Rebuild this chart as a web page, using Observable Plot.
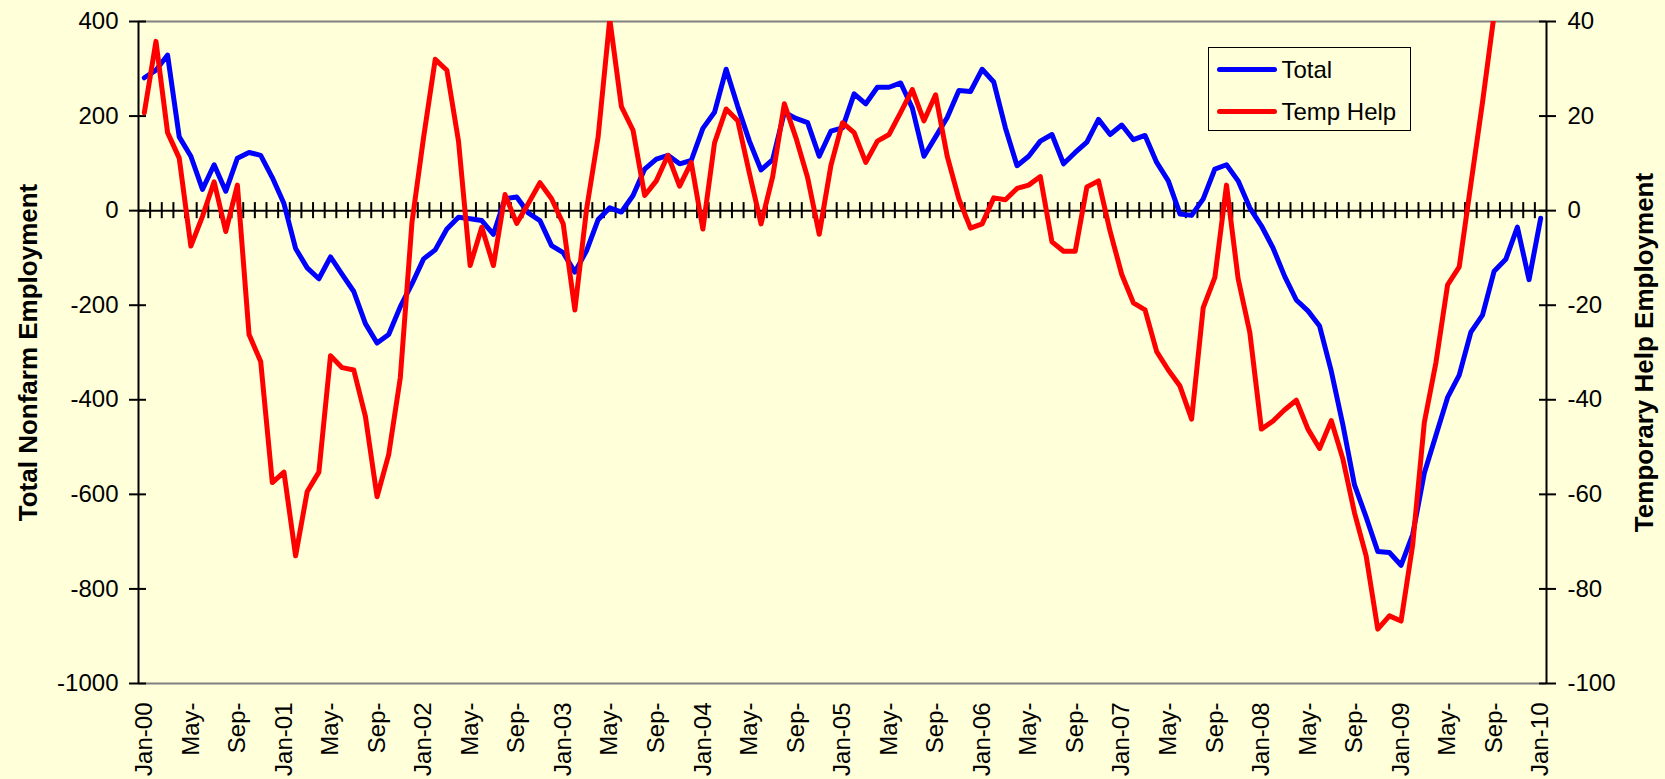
<!DOCTYPE html>
<html><head><meta charset="utf-8">
<script src="https://cdn.jsdelivr.net/npm/d3@7"></script>
<script src="https://cdn.jsdelivr.net/npm/@observablehq/plot@0.6"></script>
<style>
html,body{margin:0;padding:0;background:#FFFFD9;}
#wrap{position:relative;width:1665px;height:779px;overflow:hidden;font-family:"Liberation Sans",Arial,sans-serif;}
#wrap svg{position:absolute;left:0;top:0;}
#legend{position:absolute;left:1208px;top:47px;width:201px;height:82px;border:1.5px solid #000;background:#FFFFD9;}
.row{position:absolute;left:7.5px;height:30px;display:flex;align-items:center;font-size:24px;color:#000;white-space:nowrap;}
.sw{display:inline-block;width:60px;height:5px;border-radius:3px;margin-right:5px;}
</style></head>
<body>
<div id="wrap">
  <div id="legend">
    <div class="row" style="top:6.5px"><span class="sw" style="background:#0000FF"></span>Total</div>
    <div class="row" style="top:48.5px"><span class="sw" style="background:#FF0000"></span>Temp Help</div>
  </div>
</div>
<script>
// Monthly change, Jan-2000 .. Jan-2010 (thousands)
const total = [
  281, 297, 329, 156, 115, 45, 97, 41, 111, 123, 117, 70,
  15, -80, -121, -144, -98, -135, -171, -239, -280, -262, -203, -155,
  -102, -83, -39, -14, -17, -21, -50, 25, 29, -5, -21, -74,
  -89, -130, -85, -19, 6, -3, 32, 88, 109, 117, 99, 106,
  174, 208, 299, 220, 147, 86, 108, 208, 195, 186, 115, 168,
  175, 247, 226, 261, 261, 270, 217, 115, 156, 197, 254, 252,
  299, 272, 175, 95, 115, 147, 161, 99, 123, 145, 193, 161,
  181, 150, 159, 102, 63, -7, -10, 25, 88, 97, 63, 6,
  -32, -79, -139, -189, -212, -244, -339, -453, -580, -648, -721, -723,
  -750, -685, -555, -475, -395, -348, -257, -221, -128, -103, -35, -146,
  -16
];
const tempHelp = [
  20.7, 35.8, 16.5, 11.1, -7.5, -1.2, 6.1, -4.4, 5.4, -26.2, -31.9, -57.5,
  -55.3, -73, -59.4, -55.3, -30.7, -33.2, -33.7, -43.5, -60.5, -51.6, -35.3, -2.5,
  15.5, 32, 29.7, 14.7, -11.6, -3.5, -11.6, 3.4, -2.7, 1.5, 5.9, 2.5,
  -2.8, -21, 0.2, 15.6, 40.5, 22, 17, 3.2, 6.3, 11.7, 5.2, 10.2,
  -3.9, 14.3, 21.5, 19, 7.9, -2.8, 7.2, 22.6, 15.4, 7, -5, 9.5,
  18.6, 16.5, 10.2, 14.7, 16.1, 20.8, 25.6, 19, 24.5, 11.5, 2.5, -3.7,
  -2.8, 2.7, 2.3, 4.7, 5.4, 7.2, -6.6, -8.6, -8.6, 5.0, 6.3, -4.4,
  -13.5, -19.5, -21, -29.8, -33.7, -37.1, -44.1, -20.5, -14.1, 5.4, -14.4, -25.7,
  -46.2, -44.5, -42.1, -40.1, -46.2, -50.3, -44.4, -52.5, -63.9, -73, -88.5, -85.7,
  -86.8, -70.7, -44.8, -32.1, -15.7, -11.9, 5.6, 22.9, 41.5, null, null, null,
  null
];
const tickLabels = [
  "Jan-00","May-","Sep-","Jan-01","May-","Sep-","Jan-02","May-","Sep-","Jan-03","May-","Sep-",
  "Jan-04","May-","Sep-","Jan-05","May-","Sep-","Jan-06","May-","Sep-","Jan-07","May-","Sep-",
  "Jan-08","May-","Sep-","Jan-09","May-","Sep-","Jan-10"
];
const leftTicks = [-1000, -800, -600, -400, -200, 0, 200, 400];
const rightScale = 10; // right axis (Temp Help) = left axis / 10
const seriesNames = ["Total", "Temp Help"];

const n = total.length;
const labelIdx = tickLabels.map((_, k) => k * 4);
const boundaries = d3.range(1, n).map(k => k - 0.5);
const tickHalf = 17; // half-length of zero-line ticks, in y units

const chart = Plot.plot({
  width: 1665, height: 779,
  marginLeft: 138, marginRight: 119, marginTop: 21, marginBottom: 96,
  style: {background: "transparent", fontFamily: "Liberation Sans, Arial, sans-serif", fontSize: "24px", color: "#000", overflow: "visible"},
  x: {type: "linear", domain: [-0.5, n - 0.5], axis: null},
  y: {domain: [-1000, 400], axis: null},
  marks: [
    Plot.ruleY([400, -1000], {stroke: "#808080", strokeWidth: 2}),
    Plot.ruleY([0], {stroke: "#000", strokeWidth: 2}),
    Plot.ruleX(boundaries, {x: d => d, y1: -tickHalf, y2: tickHalf, stroke: "#000", strokeWidth: 2}),
    Plot.ruleX([-0.5, n - 0.5], {stroke: "#000", strokeWidth: 2}),
    Plot.axisY(leftTicks, {anchor: "left", tickSize: 17, dx: 8, fill: "none", strokeWidth: 2, label: null}),
    Plot.axisY(leftTicks, {anchor: "left", tickSize: 0, tickPadding: 20, stroke: "none", fontSize: 24, label: null, tickFormat: d => String(d)}),
    Plot.axisY(leftTicks, {anchor: "right", tickSize: 17, dx: -8, fill: "none", strokeWidth: 2, label: null}),
    Plot.axisY(leftTicks, {anchor: "right", tickSize: 0, tickPadding: 21, stroke: "none", fontSize: 24, label: null, tickFormat: d => String(d / rightScale)}),
    Plot.axisX(labelIdx, {anchor: "bottom", tickSize: 0, tickPadding: 19, tickRotate: -90, fontSize: 24, label: null, tickFormat: d => tickLabels[d / 4]}),
    Plot.line(total, {x: (d, i) => i, y: d => d, stroke: "#0000FF", strokeWidth: 5, strokeLinejoin: "round", strokeLinecap: "round", clip: true}),
    Plot.line(tempHelp, {x: (d, i) => i, y: d => d == null ? NaN : d * rightScale, stroke: "#FF0000", strokeWidth: 5, strokeLinejoin: "round", strokeLinecap: "round", clip: true}),
    Plot.text(["Total Nonfarm Employment"], {text: d => d, frameAnchor: "left", textAnchor: "middle", lineAnchor: "middle", dx: -110, rotate: -90, fontSize: 26, fontWeight: "bold", fill: "#000"}),
    Plot.text(["Temporary Help Employment"], {text: d => d, frameAnchor: "right", textAnchor: "middle", lineAnchor: "middle", dx: 98, rotate: -90, fontSize: 26, fontWeight: "bold", fill: "#000"})
  ]
});
document.getElementById("wrap").prepend(chart);
</script>
</body></html>
